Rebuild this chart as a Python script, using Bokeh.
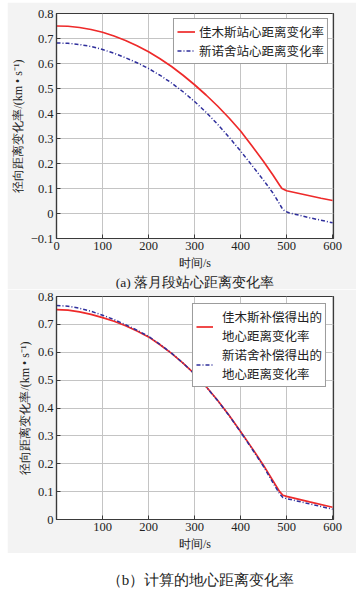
from bokeh.plotting import figure
from bokeh.models import Legend, LegendItem, FixedTicker, Label, Range1d, Title
from bokeh.layouts import column
from bokeh.embed import file_html
from bokeh.resources import INLINE

# ---------------- data ----------------
# (a) station-centre range rate
time_a_jms = [0, 25, 50, 75, 100, 125, 150, 175, 200, 225, 250, 275, 300, 325, 350, 375,
              400, 425, 450, 470, 485, 490, 500, 525, 550, 575, 600]
jms_a = [0.750, 0.749, 0.744, 0.736, 0.725, 0.710, 0.692, 0.671, 0.647, 0.619, 0.588, 0.553,
         0.515, 0.474, 0.430, 0.382, 0.330, 0.270, 0.208, 0.155, 0.113, 0.100, 0.091, 0.081,
         0.071, 0.061, 0.052]
time_a_xns = [0, 25, 50, 75, 100, 125, 150, 175, 200, 225, 250, 275, 300, 325, 350, 375,
              400, 425, 450, 470, 482, 490, 496, 505, 550, 600]
xns_a = [0.682, 0.681, 0.676, 0.668, 0.656, 0.641, 0.623, 0.603, 0.580, 0.553, 0.522, 0.487,
         0.448, 0.405, 0.357, 0.305, 0.250, 0.192, 0.133, 0.083, 0.047, 0.022, 0.010, 0.003,
         -0.017, -0.037]

# (b) geocentric range rate after compensation
time_b = [0, 25, 50, 75, 100, 125, 150, 175, 200, 225, 250, 275, 300, 325, 350, 375,
          400, 425, 450, 470, 485, 492, 500, 550, 600]
jms_b = [0.753, 0.751, 0.745, 0.736, 0.724, 0.711, 0.695, 0.676, 0.655, 0.627, 0.596, 0.561,
         0.522, 0.477, 0.428, 0.374, 0.316, 0.256, 0.194, 0.140, 0.100, 0.087, 0.083, 0.063,
         0.044]
xns_b = [0.768, 0.765, 0.758, 0.747, 0.733, 0.717, 0.699, 0.679, 0.657, 0.628, 0.597, 0.561,
         0.522, 0.476, 0.427, 0.373, 0.314, 0.253, 0.190, 0.133, 0.092, 0.079, 0.075, 0.056,
         0.037]

x_ticks_a = [0, 100, 200, 300, 400, 500, 600]
x_ticks_b = [100, 200, 300, 400, 500, 600]
y_ticks_a = [-0.1, 0.0, 0.1, 0.2, 0.3, 0.4, 0.5, 0.6, 0.7, 0.8]
y_labels_a = ["\u22120.1", "0", "0.1", "0.2", "0.3", "0.4", "0.5", "0.6", "0.7", "0.8"]
y_ticks_b = [0.0, 0.1, 0.2, 0.3, 0.4, 0.5, 0.6, 0.7, 0.8]
y_labels_b = ["0", "0.1", "0.2", "0.3", "0.4", "0.5", "0.6", "0.7", "0.8"]

legend_a = ["佳木斯站心距离变化率", "新诺舍站心距离变化率"]
legend_b = ["佳木斯补偿得出的\n地心距离变化率", "新诺舍补偿得出的\n地心距离变化率"]
x_label = "时间/s"
y_label = "径向距离变化率/(km • s\u207b\u00b9)"
caption_a = "(a) 落月段站心距离变化率"
caption_b = "（b）计算的地心距离变化率"

# ---------------- style ----------------
PANEL = "#f3f3f3"
RED = "#ee2a2a"
BLUE = "#2f2f9c"
AXIS = "#3a3a3a"
GRID = "#c4c4c4"
SERIF = "Liberation Serif"
CJK = "Noto Sans CJK SC"


def style(p, xt, yt, ylabels):
    p.background_fill_color = "white"
    p.border_fill_color = PANEL
    p.outline_line_color = AXIS
    p.outline_line_width = 1.2
    p.xaxis.ticker = FixedTicker(ticks=xt)
    p.yaxis.ticker = FixedTicker(ticks=yt)
    p.yaxis.major_label_overrides = {v: s for v, s in zip(yt, ylabels)}
    p.xaxis.major_label_overrides = {v: str(v) for v in xt}
    for ax in (p.xaxis, p.yaxis):
        ax.axis_line_color = AXIS
        ax.axis_line_width = 1.2
        ax.major_tick_in = 4
        ax.major_tick_out = 0
        ax.minor_tick_line_color = None
        ax.major_tick_line_color = AXIS
        ax.major_label_text_font = SERIF
        ax.major_label_text_font_size = "12.5px"
        ax.major_label_text_color = "#222222"
        ax.major_label_standoff = 3
        ax.axis_label_text_font = SERIF
        ax.axis_label_text_font_size = "12px"
        ax.axis_label_text_font_style = "normal"
        ax.axis_label_text_color = "#222222"
    p.xaxis.axis_label = x_label
    p.yaxis.axis_label = y_label
    p.xaxis.axis_label_standoff = 3
    p.yaxis.axis_label_standoff = 3
    p.grid.grid_line_color = GRID
    p.grid.grid_line_width = 1
    p.xgrid.ticker = FixedTicker(ticks=xt)
    p.ygrid.ticker = FixedTicker(ticks=yt)


def make_legend(items, margin, glyph_w, standoff):
    lg = Legend(items=items, location="top_right")
    lg.margin = margin
    lg.padding = 3
    lg.spacing = 0
    lg.glyph_width = glyph_w
    lg.glyph_height = 13
    lg.label_height = 13
    lg.label_standoff = standoff
    lg.label_text_font = CJK
    lg.label_text_font_size = "12.5px"
    lg.label_text_color = "#222222"
    lg.label_text_line_height = 1.05
    lg.border_line_color = AXIS
    lg.border_line_width = 1
    lg.background_fill_color = "white"
    lg.background_fill_alpha = 1
    return lg


# ---------------- (a) ----------------
pa = figure(width=349, height=287, output_backend="svg", toolbar_location=None,
            x_range=Range1d(0, 602), y_range=Range1d(-0.1, 0.8),
            min_border_left=49, min_border_right=23, min_border_top=11, min_border_bottom=49)
style(pa, x_ticks_a, y_ticks_a, y_labels_a)
ra1 = pa.line(time_a_jms, jms_a, line_color=RED, line_width=1.7)
ra2 = pa.line(time_a_xns, xns_a, line_color=BLUE, line_width=1.5, line_dash="4 2 1 2")
pa.add_layout(make_legend([LegendItem(label=legend_a[0], renderers=[ra1]),
                           LegendItem(label=legend_a[1], renderers=[ra2])], 5, 18, 4))
cap_a = Title(text=caption_a, align="center", text_font=SERIF, text_font_size="13.5px",
              text_font_style="normal", text_color="#222222", standoff=0)
pa.add_layout(cap_a, "below")

# ---------------- (b) ----------------
pb = figure(width=349, height=264, output_backend="svg", toolbar_location=None,
            x_range=Range1d(0, 602), y_range=Range1d(0, 0.8),
            min_border_left=49, min_border_right=23, min_border_top=7, min_border_bottom=30)
style(pb, x_ticks_b, y_ticks_b, y_labels_b)
rb1 = pb.line(time_b, jms_b, line_color=RED, line_width=1.7)
rb2 = pb.line(time_b, xns_b, line_color=BLUE, line_width=1.5, line_dash="4 2 1 2")
pb.add_layout(make_legend([LegendItem(label=legend_b[0], renderers=[rb1]),
                           LegendItem(label=legend_b[1], renderers=[rb2])], 7, 17, 9))

# ---------------- caption (b) ----------------
pc = figure(width=349, height=38, output_backend="svg", toolbar_location=None,
            x_range=Range1d(0, 1), y_range=Range1d(0, 1), min_border=0)
pc.axis.visible = False
pc.grid.visible = False
pc.outline_line_color = None
pc.background_fill_color = "white"
pc.border_fill_color = "white"
pc.add_layout(Label(x=0.52, y=0.3, text=caption_b, text_align="center",
                    text_baseline="middle", text_font=SERIF, text_font_size="15px",
                    text_color="#222222"))

layout = column(pa, pb, pc, spacing=0, margin=(2, 0, 0, 7))
open("out.html", "w").write(file_html(layout, INLINE))
